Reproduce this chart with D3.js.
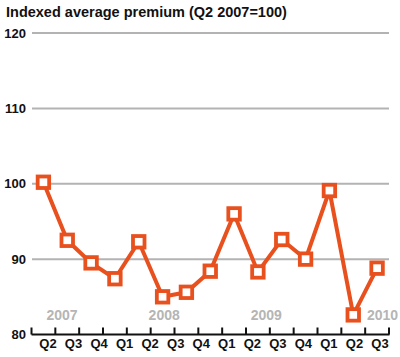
<!DOCTYPE html>
<html><head><meta charset="utf-8">
<script src="https://cdn.jsdelivr.net/npm/d3@7"></script>
<style>
html,body{margin:0;padding:0;background:#fff;}
svg{display:block;font-family:"Liberation Sans",Arial,Helvetica,sans-serif;}
</style></head><body>
<svg id="c" width="400" height="357"></svg>
<script>
// Data
const periods = ["Q2 2007","Q3 2007","Q4 2007","Q1 2008","Q2 2008","Q3 2008","Q4 2008","Q1 2009","Q2 2009","Q3 2009","Q4 2009","Q1 2010","Q2 2010","Q3 2010","Q4 2010"];
const premium = [100.2, 92.5, 89.5, 87.4, 92.3, 85.0, 85.6, 88.4, 96.0, 88.3, 92.6, 90.0, 99.1, 82.6, 88.8];
const quarterLabels = ["Q2","Q3","Q4","Q1","Q2","Q3","Q4","Q1","Q2","Q3","Q4","Q1","Q2","Q3"];
const years = ["2007","2008","2009","2010"];
const yearPos = [0.55, 4.55, 8.55, 13.1]; // position in quarter-label index units
const yTicks = [80, 90, 100, 110, 120];
const title = "Indexed average premium (Q2 2007=100)";

const svg = d3.select("#c");
const orange = "#e8501e";

const x = d3.scaleBand().domain(d3.range(periods.length)).range([31.5, 389]).paddingInner(0).paddingOuter(0);
const y = d3.scaleLinear().domain([80, 120]).range([334.5, 33]);
const xl = d3.scaleLinear().domain([0, quarterLabels.length - 1]).range([48, 380]);

svg.append("text").attr("x", 6).attr("y", 17).attr("font-size", 14.5).attr("font-weight", "bold").attr("fill", "#111").text(title);

// gridlines
svg.append("g").selectAll("line").data(yTicks.filter(v => v > 80)).join("line")
  .attr("x1", 32).attr("x2", 389).attr("y1", d => y(d)).attr("y2", d => y(d))
  .attr("stroke", "#b3b3b3").attr("stroke-width", 2);

// y labels
svg.append("g").selectAll("text").data(yTicks).join("text")
  .attr("x", 26).attr("y", d => y(d)).attr("dy", "0.36em").attr("text-anchor", "end")
  .attr("font-size", 13).attr("font-weight", "bold").attr("fill", "#111").text(d => d);

// x axis line and ticks
const tickXs = x.domain().map(i => x(i)).concat([x.range()[1]]);
svg.append("line").attr("x1", 31.5).attr("x2", 389.5).attr("y1", y(80)).attr("y2", y(80)).attr("stroke", "#111").attr("stroke-width", 2);
svg.append("g").selectAll("line").data(tickXs).join("line")
  .attr("x1", d => d).attr("x2", d => d).attr("y1", y(80)).attr("y2", y(80) - 7)
  .attr("stroke", "#111").attr("stroke-width", 2);

// quarter labels
svg.append("g").selectAll("text").data(quarterLabels).join("text")
  .attr("x", (d, i) => xl(i)).attr("y", 348).attr("text-anchor", "middle")
  .attr("font-size", 13).attr("font-weight", "bold").attr("fill", "#111").text(d => d);

// year labels
svg.append("g").selectAll("text").data(years).join("text")
  .attr("x", (d, i) => xl(yearPos[i])).attr("y", 320).attr("text-anchor", "middle")
  .attr("font-size", 14).attr("font-weight", "bold").attr("fill", "#b5b5b5").text(d => d);

// line
const cx = i => x(i) + x.bandwidth() / 2;
svg.append("path").datum(premium)
  .attr("d", d3.line().x((d, i) => cx(i)).y(d => y(d)))
  .attr("fill", "none").attr("stroke", orange).attr("stroke-width", 4).attr("stroke-linejoin", "miter");

// markers
const s = 11.5;
svg.append("g").selectAll("rect").data(premium).join("rect")
  .attr("x", (d, i) => cx(i) - s / 2).attr("y", d => y(d) - s / 2)
  .attr("width", s).attr("height", s)
  .attr("fill", "#fff").attr("stroke", orange).attr("stroke-width", 3.8);
</script>
</body></html>
